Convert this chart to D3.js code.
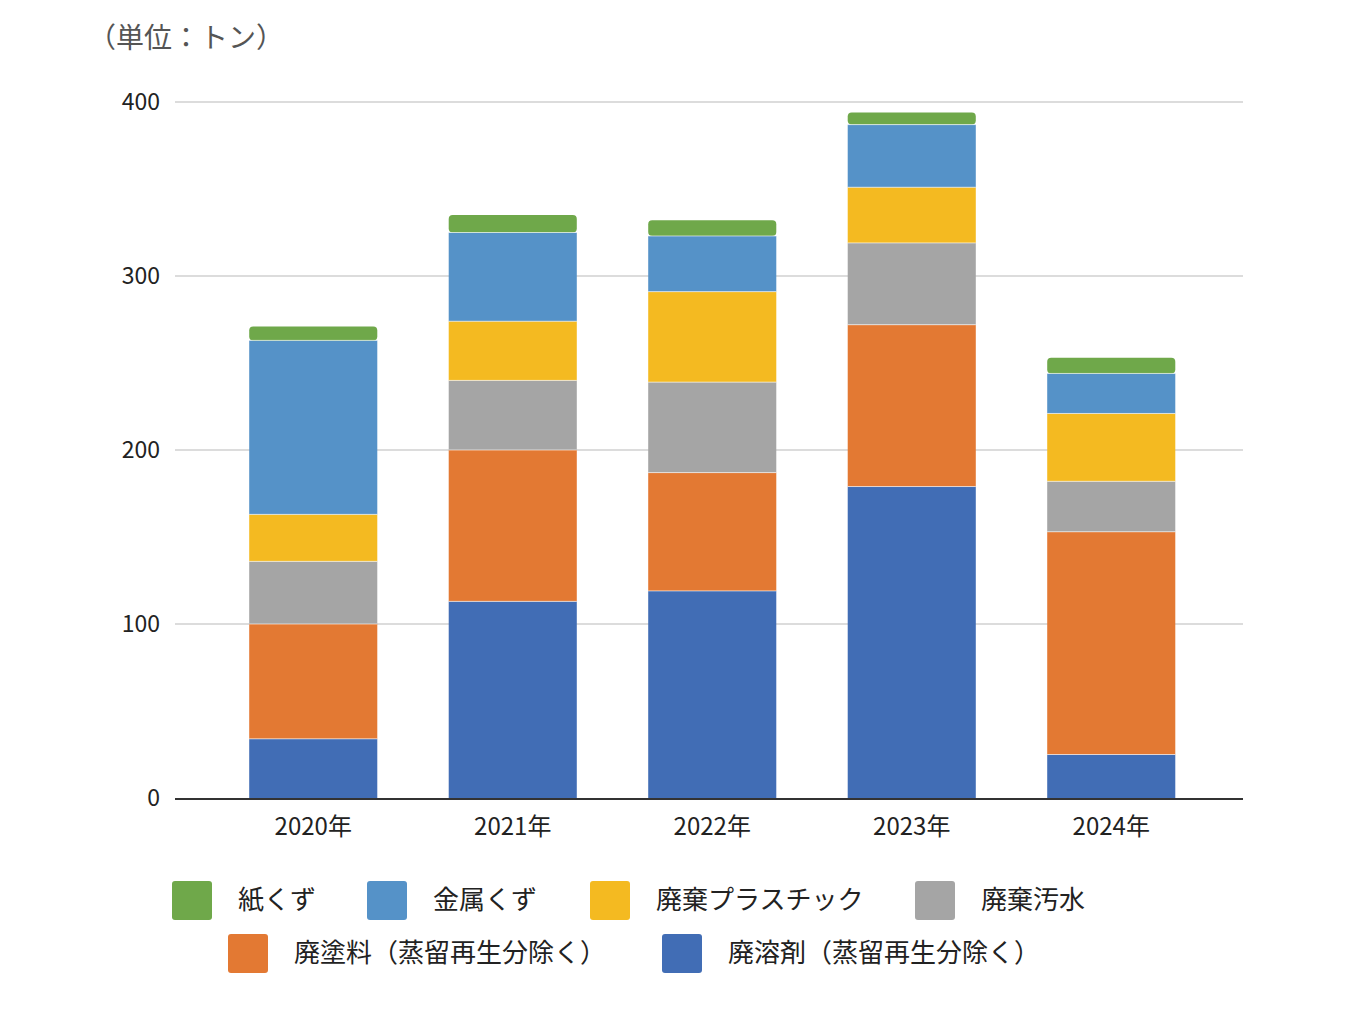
<!DOCTYPE html>
<html><head><meta charset="utf-8">
<script src="https://cdn.jsdelivr.net/npm/d3@7"></script>
<style>
body{margin:0;background:#fff;font-family:"Noto Sans CJK JP","Noto Sans",sans-serif;}
</style></head>
<body><div id="vis"></div>
<script>
// data
let years = ['2020年', '2021年', '2022年', '2023年', '2024年'];
let seriesNames = ['廃溶剤（蒸留再生分除く）', '廃塗料（蒸留再生分除く）', '廃棄汚水', '廃棄プラスチック', '金属くず', '紙くず'];
let seriesColors = ['#416db5', '#e37933', '#a5a5a5', '#f4ba21', '#5592c8', '#6fa84a'];
let solvent = [34, 113, 119, 179, 25];
let paint = [66, 87, 68, 93, 128];
let water = [36, 40, 52, 47, 29];
let plastic = [27, 34, 52, 32, 39];
let metal = [100, 51, 32, 36, 23];
let paper = [8, 10, 9, 7, 9];
let yTicks = [0, 100, 200, 300, 400];
let legendOrder = [5, 4, 3, 2, 1, 0];

let allSeries = [solvent, paint, water, plastic, metal, paper];
let rows = years.map((y, i) => {
    let r = {year: y};
    seriesNames.forEach((n, k) => r[n] = allSeries[k][i]);
    return r;
});
let stacked = d3.stack().keys(seriesNames)(rows);

let width = 1361, height = 1016;
let svg = d3.select('#vis').append('svg').attr('width', width).attr('height', height);

let x = d3.scaleBand().domain(years).range([213.5, 1211]).paddingInner(0.358).paddingOuter(0.179);
let y = d3.scaleLinear().domain([0, 400]).range([798, 102]);

// grid
svg.append('g').selectAll('line').data(yTicks.slice(1)).enter().append('line')
    .attr('x1', 175).attr('x2', 1243)
    .attr('y1', d => y(d)).attr('y2', d => y(d))
    .attr('stroke', '#d0d0d0').attr('stroke-width', 1.5);

svg.append('g').selectAll('text').data(yTicks).enter().append('text')
    .attr('x', 160).attr('y', d => y(d) + 8)
    .attr('text-anchor', 'end').attr('font-size', 23).attr('fill', '#222')
    .text(d => d);

// bars
stacked.forEach((s, k) => {
    svg.append('g').selectAll('rect').data(s).enter().append('rect')
        .attr('x', d => x(d.data.year))
        .attr('width', x.bandwidth())
        .attr('y', d => y(d[1]))
        .attr('height', d => y(d[0]) - y(d[1]))
        .attr('rx', k === stacked.length - 1 ? 4 : 0)
        .attr('fill', seriesColors[k]);
});
// white separators between segments
stacked.slice(1).forEach(s => {
    svg.append('g').selectAll('line').data(s).enter().append('line')
        .attr('x1', d => x(d.data.year)).attr('x2', d => x(d.data.year) + x.bandwidth())
        .attr('y1', d => y(d[0])).attr('y2', d => y(d[0]))
        .attr('stroke', '#fff').attr('stroke-opacity', 0.6).attr('stroke-width', 1);
});

// x axis
svg.append('line').attr('x1', 175).attr('x2', 1243).attr('y1', 799).attr('y2', 799)
    .attr('stroke', '#333').attr('stroke-width', 2);
svg.append('g').selectAll('text').data(years).enter().append('text')
    .attr('x', d => x(d) + x.bandwidth() / 2).attr('y', 835)
    .attr('text-anchor', 'middle').attr('font-size', 24).attr('fill', '#222')
    .text(d => d);

// unit
svg.append('text').attr('x', 88).attr('y', 48).attr('font-size', 28).attr('fill', '#555')
    .text('（単位：トン）');

// legend
let legendPos = [[172, 881], [367, 881], [590, 881], [915, 881], [228, 934], [662, 934]];
legendOrder.forEach((k, i) => {
    let p = legendPos[i];
    svg.append('rect').attr('x', p[0]).attr('y', p[1]).attr('width', 40).attr('height', 39)
        .attr('rx', 3).attr('fill', seriesColors[k]);
    svg.append('text').attr('x', p[0] + 66).attr('y', p[1] + 28)
        .attr('font-size', 26).attr('fill', '#222').text(seriesNames[k]);
});
</script>
</body></html>
